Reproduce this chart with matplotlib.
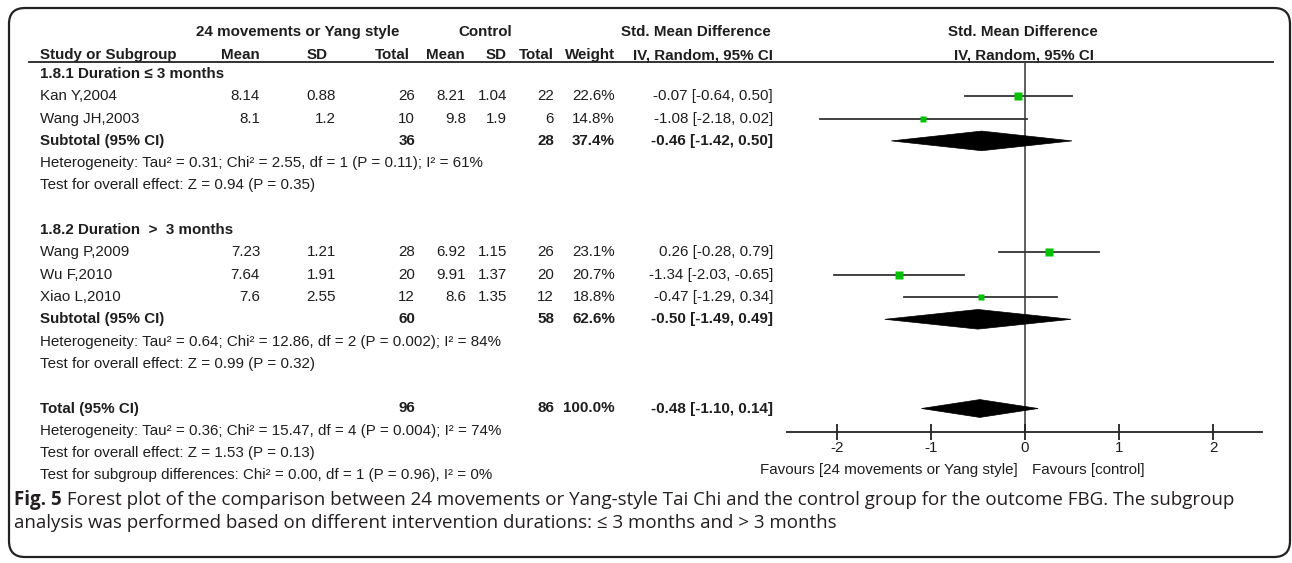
import matplotlib
matplotlib.use("Agg")
import matplotlib.pyplot as plt
from matplotlib.patches import Polygon, FancyBboxPatch

# study level data
studies = ["Kan Y,2004", "Wang JH,2003", "Wang P,2009", "Wu F,2010", "Xiao L,2010"]
exp_mean = [8.14, 8.1, 7.23, 7.64, 7.6]
exp_sd = [0.88, 1.2, 1.21, 1.91, 2.55]
exp_n = [26, 10, 28, 20, 12]
ctl_mean = [8.21, 9.8, 6.92, 9.91, 8.6]
ctl_sd = [1.04, 1.9, 1.15, 1.37, 1.35]
ctl_n = [22, 6, 26, 20, 12]
weight = [22.6, 14.8, 23.1, 20.7, 18.8]
smd = [-0.07, -1.08, 0.26, -1.34, -0.47]
smd_lo = [-0.64, -2.18, -0.28, -2.03, -1.29]
smd_hi = [0.50, 0.02, 0.79, -0.65, 0.34]
study_rows = [1, 2, 8, 9, 10]

# subgroups and overall
group_titles = ["1.8.1 Duration \u2264 3 months", "1.8.2 Duration  >  3 months"]
group_rows = [0, 7]
sub_rows = [3, 11]
sub_exp_n = [36, 60]
sub_ctl_n = [28, 58]
sub_weight = [37.4, 62.6]
sub_smd = [-0.46, -0.50]
sub_lo = [-1.42, -1.49]
sub_hi = [0.50, 0.49]
sub_het = ["Heterogeneity: Tau\u00b2 = 0.31; Chi\u00b2 = 2.55, df = 1 (P = 0.11); I\u00b2 = 61%",
           "Heterogeneity: Tau\u00b2 = 0.64; Chi\u00b2 = 12.86, df = 2 (P = 0.002); I\u00b2 = 84%"]
sub_test = ["Test for overall effect: Z = 0.94 (P = 0.35)",
            "Test for overall effect: Z = 0.99 (P = 0.32)"]

total_row = 15
total_exp_n = 96
total_ctl_n = 86
total_weight = 100.0
total_smd = -0.48
total_lo = -1.10
total_hi = 0.14
total_notes = ["Heterogeneity: Tau\u00b2 = 0.36; Chi\u00b2 = 15.47, df = 4 (P = 0.004); I\u00b2 = 74%",
               "Test for overall effect: Z = 1.53 (P = 0.13)",
               "Test for subgroup differences: Chi\u00b2 = 0.00, df = 1 (P = 0.96), I\u00b2 = 0%"]

xticks = [-2, -1, 0, 1, 2]
caption_bold = "Fig. 5"
caption_1 = (" Forest plot of the comparison between 24 movements or Yang-style Tai Chi and the "
             "control group for the outcome FBG. The subgroup")
caption_2 = "analysis was performed based on different intervention durations: \u2264 3 months and > 3 months"

W, H = 1292, 563
Y0, PITCH = 74.0, 22.3          # pixel y of row 0 and row spacing
TXT = "#1e1e1e"
FAM = ["Liberation Sans Narrow", "Liberation Sans", "DejaVu Sans"]
FS = 10.9


def ry(r):
    return Y0 + r * PITCH


fig = plt.figure(figsize=(W / 100, H / 100), dpi=100)
bg = fig.add_axes([0, 0, 1, 1])
bg.set_xlim(0, W)
bg.set_ylim(H, 0)
bg.axis("off")


def put(x, r, s, ha="left", bold=False, y=None):
    bg.text(x, ry(r) if y is None else y, s, ha=ha, va="center", fontsize=FS,
            family=FAM, color=TXT, fontweight="bold" if bold else "normal")


# rounded frame
bg.add_patch(FancyBboxPatch((9, 8), 1281, 549, boxstyle="round,pad=0,rounding_size=16",
                            fill=False, lw=1.6, ec="#222222"))

# header
put(298, None, "24 movements or Yang style", ha="center", bold=True, y=32)
put(485, None, "Control", ha="center", bold=True, y=32)
put(696, None, "Std. Mean Difference", ha="center", bold=True, y=32)
put(1023, None, "Std. Mean Difference", ha="center", bold=True, y=32)
put(40, None, "Study or Subgroup", bold=True, y=55)
for x, s in [(260, "Mean"), (328, "SD"), (410, "Total"), (465, "Mean"), (507, "SD"),
             (554, "Total"), (615, "Weight"), (773, "IV, Random, 95% CI")]:
    put(x, None, s, ha="right", bold=True, y=55)
put(1024, None, "IV, Random, 95% CI", ha="center", bold=True, y=55)
bg.plot([29, 1273], [62, 62], color="#222222", lw=1.3)

# study rows
for i, name in enumerate(studies):
    r = study_rows[i]
    put(40, r, name)
    put(260, r, str(exp_mean[i]), ha="right")
    put(336, r, str(exp_sd[i]), ha="right")
    put(415, r, str(exp_n[i]), ha="right")
    put(466, r, str(ctl_mean[i]), ha="right")
    put(507, r, str(ctl_sd[i]), ha="right")
    put(554, r, str(ctl_n[i]), ha="right")
    put(615, r, "%.1f%%" % weight[i], ha="right")
    put(773, r, "%.2f [%.2f, %.2f]" % (smd[i], smd_lo[i], smd_hi[i]), ha="right")

# subgroup blocks
for g in range(2):
    put(40, group_rows[g], group_titles[g], bold=True)
    r = sub_rows[g]
    put(40, r, "Subtotal (95% CI)", bold=True)
    put(415, r, str(sub_exp_n[g]), ha="right", bold=True)
    put(554, r, str(sub_ctl_n[g]), ha="right", bold=True)
    put(615, r, "%.1f%%" % sub_weight[g], ha="right", bold=True)
    put(773, r, "%.2f [%.2f, %.2f]" % (sub_smd[g], sub_lo[g], sub_hi[g]), ha="right", bold=True)
    put(40, r + 1, sub_het[g])
    put(40, r + 2, sub_test[g])

# overall
put(40, total_row, "Total (95% CI)", bold=True)
put(415, total_row, str(total_exp_n), ha="right", bold=True)
put(554, total_row, str(total_ctl_n), ha="right", bold=True)
put(615, total_row, "%.1f%%" % total_weight, ha="right", bold=True)
put(773, total_row, "%.2f [%.2f, %.2f]" % (total_smd, total_lo, total_hi), ha="right", bold=True)
for k, s in enumerate(total_notes):
    put(40, total_row + 1 + k, s)

# forest panel, x in SMD units, y in row units
px_l, px_r, px_top, px_bot = 787, 1262, 62, 432
ax = fig.add_axes([px_l / W, 1 - px_bot / H, (px_r - px_l) / W, (px_bot - px_top) / H])
ax.set_xlim(-2.53, 2.52)
ax.set_ylim((px_bot - Y0) / PITCH, (px_top - Y0) / PITCH)
ax.patch.set_alpha(0)
for side in ["top", "right", "left"]:
    ax.spines[side].set_visible(False)
ax.spines["bottom"].set_linewidth(1.3)
ax.spines["bottom"].set_color("#222222")
ax.set_yticks([])
ax.set_xticks(xticks)
ax.set_xticklabels([str(t) for t in xticks], family=FAM, fontsize=FS, color=TXT)
ax.tick_params(axis="x", direction="inout", length=11, width=1.3, color="#222222", pad=1)
ax.axvline(0, color="#444444", lw=1.2, zorder=1)

for i in range(len(studies)):
    r = study_rows[i]
    ax.plot([smd_lo[i], smd_hi[i]], [r, r], color="#333333", lw=1.3, zorder=2)
    side = 1.55 * weight[i] ** 0.5 * 0.72
    ax.plot(smd[i], r, marker="s", ms=side, color="#00c000", mec="none", zorder=3)


def diamond(est, lo, hi, r, h=0.44):
    ax.add_patch(Polygon([[lo, r], [est, r - h], [hi, r], [est, r + h]],
                         closed=True, fc="black", ec="black", lw=0.5, zorder=3))


for g in range(2):
    diamond(sub_smd[g], sub_lo[g], sub_hi[g], sub_rows[g])
diamond(total_smd, total_lo, total_hi, total_row, h=0.4)

bg.text(1018, 470, "Favours [24 movements or Yang style]", ha="right", va="center",
        fontsize=FS, family=FAM, color=TXT)
bg.text(1032, 470, "Favours [control]", ha="left", va="center",
        fontsize=FS, family=FAM, color=TXT)

# caption
cap_fam = ["Open Sans", "DejaVu Sans"]
cfs = 13.5
t = bg.text(14, 500, caption_bold, ha="left", va="center", fontsize=cfs, family=cap_fam,
            fontweight="bold", color="#231f20")
fig.canvas.draw()
bb = t.get_window_extent()
x_after = bg.transData.inverted().transform((bb.x1, bb.y0))[0]
bg.text(x_after, 500, caption_1, ha="left", va="center", fontsize=cfs, family=cap_fam,
        color="#231f20")
bg.text(14, 523, caption_2, ha="left", va="center", fontsize=cfs, family=cap_fam,
        color="#231f20")

fig.savefig("out.png", dpi=100)
